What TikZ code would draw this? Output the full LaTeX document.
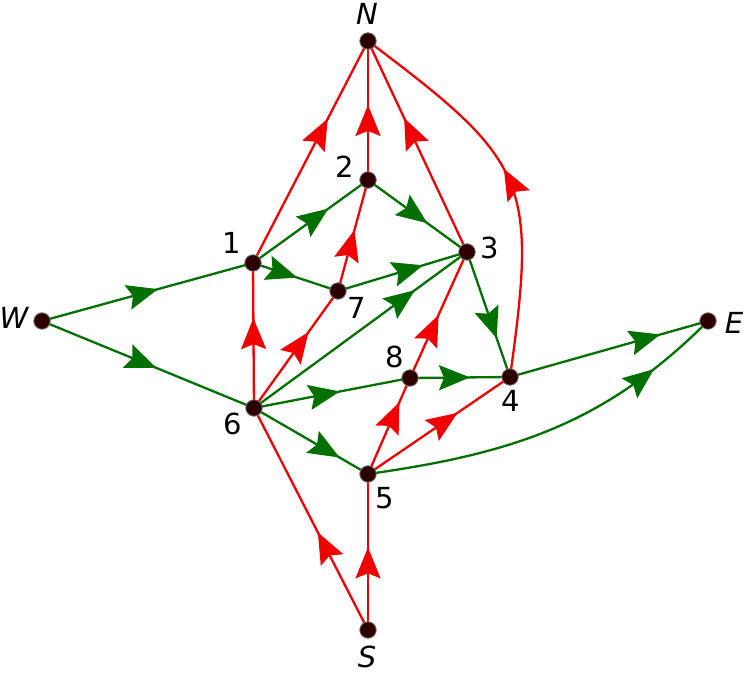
\documentclass[tikz,border=0pt]{standalone}
\usepackage{fontspec}
\setmainfont{DejaVu Sans}
\usetikzlibrary{arrows.meta,decorations.markings}
\definecolor{er}{RGB}{240,0,0}
\definecolor{eg}{RGB}{0,112,0}
\definecolor{vx}{RGB}{45,0,0}
\pgfdeclarelayer{bg}
\pgfsetlayers{bg,main}
\tikzset{
  vtx/.style={circle, fill=vx, draw=black!55, line width=0.8pt, minimum size=16.5pt, inner sep=0pt},
  lab/.style={font=\fontsize{29}{32}\selectfont, inner sep=0pt},
  midarrow/.style={postaction={decorate}, decoration={markings, mark=at position #1 with {\arrow{Stealth[length=31pt,width=25pt,inset=5pt]}}}},
  midarrow/.default=0.55,
  re/.style={draw=er, line width=2.3pt, er},
  ge/.style={draw=eg, line width=2.3pt, eg},
}
\begin{document}
\begin{tikzpicture}[x=1pt,y=-1pt]
\useasboundingbox (0,0) rectangle (747,674);
% vertices
\node[vtx] (N) at (368,41) {};
\node[vtx] (v2) at (368,180) {};
\node[vtx] (v1) at (253,263) {};
\node[vtx] (v7) at (338,291) {};
\node[vtx] (v3) at (467,252) {};
\node[vtx] (W) at (42,321) {};
\node[vtx] (E) at (708,321) {};
\node[vtx] (v8) at (410,378) {};
\node[vtx] (v4) at (510,377) {};
\node[vtx] (v6) at (254,408) {};
\node[vtx] (v5) at (368,474) {};
\node[vtx] (S) at (368,630) {};
% labels
\node[lab] (lN) at (367,14) {\itshape N};
\node[lab] (l2) at (345,167) {2};
\node[lab] (l1) at (232,243) {1};
\node[lab] (l7) at (357,308) {7};
\node[lab] (l3) at (490,248) {3};
\node[lab] (lW) at (14,318) {\itshape W};
\node[lab] (lE) at (734,323) {\itshape E};
\node[lab] (l8) at (395,357) {8};
\node[lab] (l4) at (511,401) {4};
\node[lab] (l6) at (233,424) {6};
\node[lab] (l5) at (385,498) {5};
\node[lab] (lS) at (367,657) {\itshape S};
\begin{pgfonlayer}{bg}
% red edges
\draw[re,midarrow=0.65] (v1.center) -- (N.center);
\draw[re,midarrow=0.54] (v2.center) -- (N.center);
\draw[re,midarrow=0.635] (v3.center) -- (N.center);
\draw[re,midarrow=0.53] (v4.center) to[out=82,in=-37,looseness=1.4] (N.center);
\draw[re,midarrow=0.55] (v7.center) -- (v2.center);
\draw[re,midarrow=0.62] (v6.center) -- (v1.center);
\draw[re,midarrow=0.65] (v6.center) -- (v7.center);
\draw[re,midarrow=0.5] (v8.center) -- (v3.center);
\draw[re,midarrow=0.75] (v5.center) -- (v8.center);
\draw[re,midarrow=0.63] (v5.center) -- (v4.center);
\draw[re,midarrow=0.44] (S.center) -- (v6.center);
\draw[re,midarrow=0.53] (S.center) -- (v5.center);
% green edges
\draw[ge,midarrow=0.55] (W.center) -- (v1.center);
\draw[ge,midarrow=0.54] (W.center) -- (v6.center);
\draw[ge,midarrow=0.655] (v1.center) -- (v2.center);
\draw[ge,midarrow=0.52] (v1.center) -- (v7.center);
\draw[ge,midarrow=0.6] (v2.center) -- (v3.center);
\draw[ge,midarrow=0.66] (v7.center) -- (v3.center);
\draw[ge,midarrow=0.755] (v6.center) -- (v3.center);
\draw[ge,midarrow=0.55] (v6.center) -- (v8.center);
\draw[ge,midarrow=0.75] (v6.center) -- (v5.center);
\draw[ge,midarrow=0.6] (v8.center) -- (v4.center);
\draw[ge,midarrow=0.69] (v3.center) -- (v4.center);
\draw[ge,midarrow=0.76] (v4.center) -- (E.center);
\draw[ge,midarrow=0.81] (v5.center) to[out=8,in=-135] (E.center);
\end{pgfonlayer}
\end{tikzpicture}
\end{document}
